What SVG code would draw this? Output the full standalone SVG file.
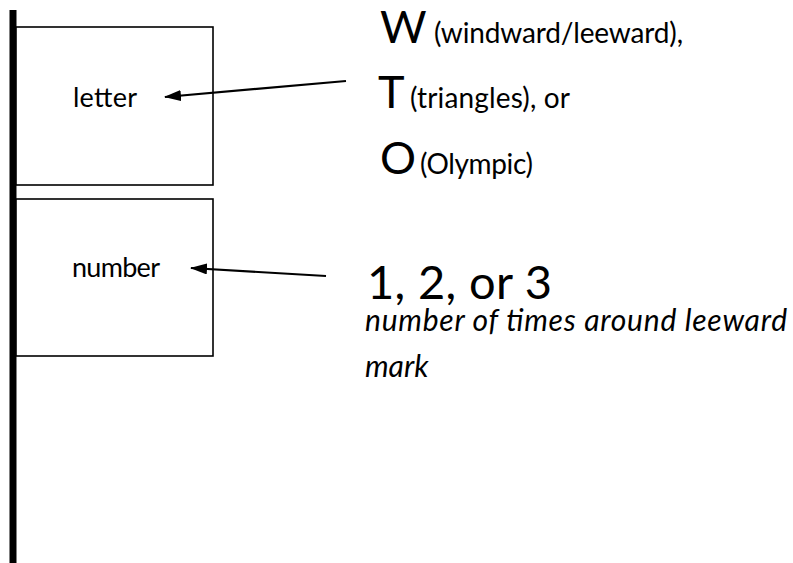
<svg xmlns="http://www.w3.org/2000/svg" width="793" height="563" viewBox="0 0 793 563">
  <style>
    .box { fill: #ffffff; stroke: #000000; stroke-width: 1.6; }
    .lbl { font-family: Lato, "Open Sans", sans-serif; font-size: 27px; fill: #000000; }
    .big { font-family: Lato, "Open Sans", sans-serif; font-size: 45px; fill: #000000; }
    .small { font-family: Lato, "Open Sans", sans-serif; font-size: 28px; fill: #000000; }
    .num { font-family: Lato, "Open Sans", sans-serif; font-size: 47px; fill: #000000; }
    .ital { font-family: Lato, "Open Sans", sans-serif; font-size: 30px; font-style: italic; fill: #000000; }
    .conn { stroke: #000000; stroke-width: 2.2; fill: none; marker-end: url(#arrow); }
  </style>
  <defs>
    <marker id="arrow" markerUnits="userSpaceOnUse" viewBox="0 0 17 11" refX="16" refY="5.5" markerWidth="17" markerHeight="11" orient="auto">
      <path d="M0,0 L17,5.5 L0,11 z" fill="#000000"/>
    </marker>
  </defs>
  <rect width="793" height="563" fill="#ffffff"/>
  <g id="pole">
    <rect x="9.5" y="10" width="7" height="553" fill="#000000"/>
  </g>
  <g id="node-letter">
    <rect class="box" x="16" y="27" width="197" height="158"/>
    <text class="lbl" x="73" y="107" textLength="64">letter</text>
  </g>
  <g id="node-number">
    <rect class="box" x="16" y="199" width="197" height="157"/>
    <text class="lbl" x="72" y="277" textLength="88">number</text>
  </g>
  <g id="letter-options">
    <text class="big" x="380" y="43">W</text>
    <text class="small" x="434" y="43" textLength="249">(windward/leeward),</text>
    <text class="big" x="378" y="108">T</text>
    <text class="small" x="410" y="108" textLength="160">(triangles), or</text>
    <text class="big" x="380" y="174">O</text>
    <text class="small" x="420" y="174" textLength="113">(Olympic)</text>
  </g>
  <g id="number-options">
    <text class="num" x="367" y="299" textLength="185">1, 2, or 3</text>
    <text class="ital" x="365" y="331" textLength="422">number of times around leeward</text>
    <text class="ital" x="365" y="377">mark</text>
  </g>
  <g id="connectors">
    <line class="conn" x1="346" y1="81" x2="165" y2="97"/>
    <line class="conn" x1="326" y1="276" x2="191" y2="268"/>
  </g>
</svg>
